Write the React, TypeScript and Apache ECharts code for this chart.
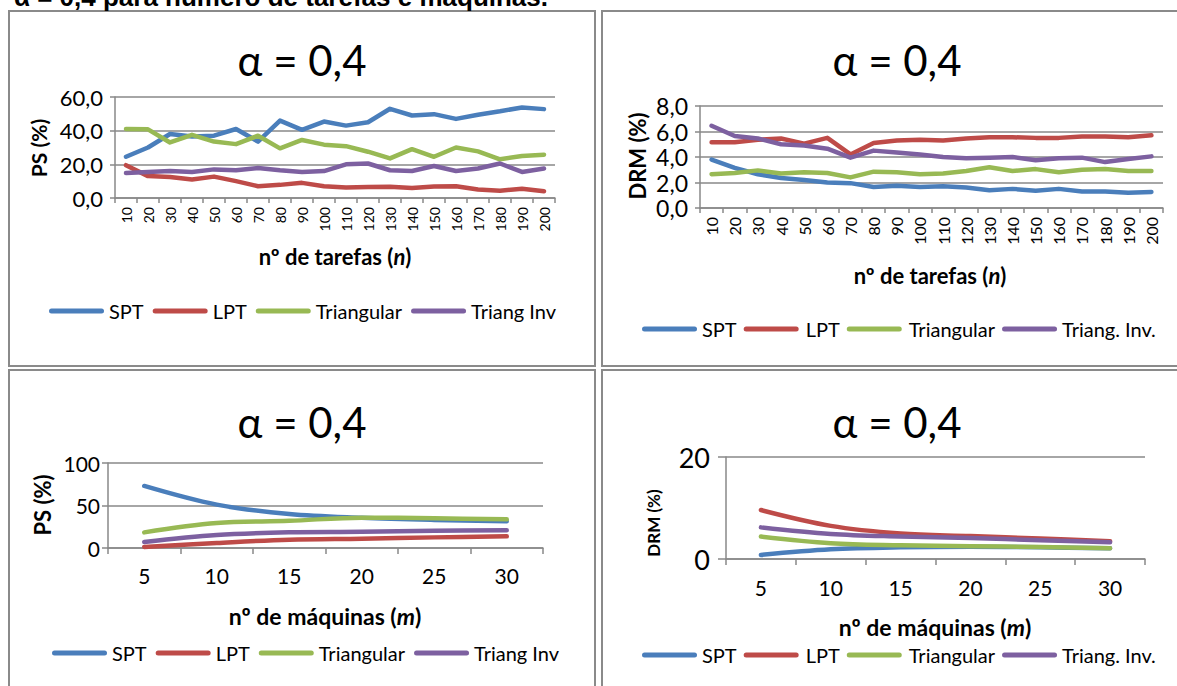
import React, { useEffect, useRef } from 'react';
import * as echarts from 'echarts';

const taskCats = ['10', '20', '30', '40', '50', '60', '70', '80', '90', '100', '110', '120', '130', '140', '150', '160', '170', '180', '190', '200'];
const machineCats = ['5', '10', '15', '20', '25', '30'];

const namesA = ['SPT', 'LPT', 'Triangular', 'Triang Inv'];
const namesB = ['SPT', 'LPT', 'Triangular', 'Triang. Inv.'];

const psTaskSPT = [24.5, 30, 38, 36.5, 37, 41, 33.5, 46, 40.5, 45.4, 43, 45, 53, 49, 49.8, 47, 49.5, 51.5, 53.8, 52.8];
const psTaskLPT = [19.5, 13, 12.5, 11, 12.7, 10, 7, 7.8, 9, 7, 6.2, 6.5, 6.7, 6, 6.8, 7, 5, 4.3, 5.5, 4];
const psTaskTri = [41, 40.8, 33, 37.5, 33.5, 32, 37, 29.5, 34.5, 31.7, 30.8, 27.5, 23.5, 29, 24.5, 30, 27.7, 23, 25, 25.7];
const psTaskInv = [14.8, 15.5, 16, 15.5, 17, 16.5, 17.8, 16.5, 15.5, 16, 20, 20.5, 16.5, 16, 19, 16, 17.5, 20.5, 15.5, 17.5];

const drmTaskSPT = [3.8, 3.15, 2.65, 2.35, 2.2, 2.0, 1.95, 1.65, 1.75, 1.65, 1.7, 1.6, 1.4, 1.5, 1.35, 1.5, 1.3, 1.3, 1.2, 1.25];
const drmTaskLPT = [5.15, 5.15, 5.35, 5.45, 5.05, 5.5, 4.2, 5.1, 5.3, 5.35, 5.3, 5.45, 5.55, 5.55, 5.5, 5.5, 5.6, 5.6, 5.55, 5.7];
const drmTaskTri = [2.65, 2.75, 2.95, 2.7, 2.8, 2.75, 2.4, 2.85, 2.8, 2.65, 2.7, 2.9, 3.2, 2.9, 3.05, 2.8, 3.0, 3.05, 2.9, 2.9];
const drmTaskInv = [6.45, 5.65, 5.45, 5.0, 4.9, 4.65, 3.95, 4.5, 4.35, 4.2, 4.0, 3.9, 3.95, 4.0, 3.75, 3.9, 3.95, 3.6, 3.85, 4.05];

const psMachSPT = [73, 51, 40, 35.5, 33, 31.5];
const psMachLPT = [1.2, 5.9, 9.8, 11, 12.5, 13.7];
const psMachTri = [18.4, 29.4, 32, 35.7, 35, 33.7];
const psMachInv = [7, 15.3, 18.4, 19, 20.4, 20.8];

const drmMachSPT = [0.8, 1.9, 2.3, 2.4, 2.3, 2.1];
const drmMachLPT = [9.6, 6.5, 5.0, 4.5, 4.0, 3.5];
const drmMachTri = [4.4, 3.1, 2.7, 2.5, 2.35, 2.1];
const drmMachInv = [6.2, 4.9, 4.4, 4.1, 3.7, 3.3];

const COLORS = ['#4A7EBB', '#BE4B48', '#98B954', '#7D60A0'];
const FONT = 'Lato';
const GRAY = '#898989';

function buildOption() {
  const grids = [
    { left: 115, top: 97, width: 440, height: 101 },
    { left: 700, top: 106, width: 463, height: 102 },
    { left: 108, top: 463, width: 435, height: 85 },
    { left: 726, top: 457, width: 419, height: 102 },
  ];
  const axisLine = { show: true, lineStyle: { color: GRAY, width: 1.5 } };
  const mkX = (gi: number, data: string[], label: any, tickLen: number) => ({
    type: 'category',
    gridIndex: gi,
    data,
    boundaryGap: true,
    axisLine,
    axisTick: { show: true, length: tickLen, lineStyle: { color: GRAY, width: 1.5 }, alignWithLabel: false },
    axisLabel: { interval: 0, color: '#000', fontFamily: FONT, ...label },
    splitLine: { show: false },
  });
  const mkY = (gi: number, max: number, interval: number, label: any, tickLen: number) => ({
    type: 'value',
    gridIndex: gi,
    min: 0,
    max,
    interval,
    axisLine,
    axisTick: { show: true, length: tickLen, lineStyle: { color: GRAY, width: 1.5 } },
    splitLine: { show: true, lineStyle: { color: GRAY, width: 1.5 } },
    axisLabel: { color: '#000', fontFamily: FONT, ...label },
  });
  const dec = (v: number) => v.toFixed(1).replace('.', ',');
  const xAxis = [
    mkX(0, taskCats, { rotate: 90, fontSize: 14, margin: 9 }, 5),
    mkX(1, taskCats, { rotate: 90, fontSize: 16, margin: 9 }, 5),
    mkX(2, machineCats, { fontSize: 21, margin: 17 }, 6),
    mkX(3, machineCats, { fontSize: 21, margin: 18 }, 6),
  ];
  const yAxis = [
    mkY(0, 60, 20, { fontSize: 22, margin: 12, formatter: dec }, 5),
    mkY(1, 8, 2, { fontSize: 23, margin: 12, formatter: dec }, 5),
    mkY(2, 100, 50, { fontSize: 21, margin: 8 }, 6),
    mkY(3, 20, 20, { fontSize: 27, margin: 16 }, 8),
  ];
  const sets = [
    { names: namesA, data: [psTaskSPT, psTaskLPT, psTaskTri, psTaskInv], smooth: false },
    { names: namesB, data: [drmTaskSPT, drmTaskLPT, drmTaskTri, drmTaskInv], smooth: false },
    { names: namesA, data: [psMachSPT, psMachLPT, psMachTri, psMachInv], smooth: true },
    { names: namesB, data: [drmMachSPT, drmMachLPT, drmMachTri, drmMachInv], smooth: true },
  ];
  const series: any[] = [];
  sets.forEach((s, gi) => {
    s.data.forEach((d, i) => {
      series.push({
        type: 'line',
        name: s.names[i],
        xAxisIndex: gi,
        yAxisIndex: gi,
        data: d,
        symbol: 'none',
        smooth: s.smooth ? 0.35 : false,
        itemStyle: { color: COLORS[i] },
        lineStyle: { color: COLORS[i], width: 4.5, cap: 'round', join: 'round' },
      });
    });
  });
  const pill = 'path://M2.5,0L52.5,0A2.5,2.5,0,0,1,52.5,5L2.5,5A2.5,2.5,0,0,1,2.5,0Z';
  const legendCommon = {
    icon: pill,
    itemWidth: 55,
    itemHeight: 5,
    padding: 0,
    orient: 'horizontal',
    textStyle: { fontFamily: FONT, fontSize: 20, color: '#000' },
  };
  const dataB = [
    'SPT',
    { name: 'LPT', textStyle: { padding: [0, 0, 0, 2] } },
    { name: 'Triangular', textStyle: { padding: [0, 0, 0, 2] } },
    'Triang. Inv.',
  ];
  const legend = [
    { ...legendCommon, left: 49, top: 301, itemGap: 9, data: namesA },
    { ...legendCommon, left: 642, top: 319, itemGap: 7, data: dataB },
    { ...legendCommon, left: 52, top: 643, itemGap: 9, data: namesA },
    { ...legendCommon, left: 642, top: 645, itemGap: 7, data: dataB },
  ];

  const txt = (text: string, x: number, y: number, size: number, weight: string, rotation = 0, family = FONT) => ({
    type: 'text',
    x,
    y,
    rotation,
    style: {
      text,
      fontSize: size,
      fontWeight: weight,
      fontFamily: family,
      fill: '#000',
      align: 'center',
      verticalAlign: 'middle',
      textAlign: 'center',
      textVerticalAlign: 'middle',
    },
  });
  const richName = (a: string, it: string, x: number, y: number, size: number) => ({
    type: 'text',
    x,
    y,
    style: {
      text: `{b|${a}(}{i|${it}}{b|)}`,
      align: 'center',
      verticalAlign: 'middle',
      textAlign: 'center',
      textVerticalAlign: 'middle',
      rich: {
        b: { fontSize: size, fontWeight: 'bold', fontFamily: FONT, fill: '#000', color: '#000' },
        i: { fontSize: size, fontWeight: 'bold', fontStyle: 'italic', fontFamily: FONT, fill: '#000', color: '#000' },
      },
    },
  });
  const rect = (x: number, y: number, w: number, h: number) => ({
    type: 'rect',
    shape: { x, y, width: w, height: h },
    style: { fill: 'none', stroke: '#8a8a8a', lineWidth: 2 },
    silent: true,
  });
  const graphic = [
    rect(9, 11, 586, 355),
    rect(602, 11, 600, 355),
    rect(9, 370, 586, 400),
    rect(602, 370, 600, 400),
    txt('α = 0,4 para número de tarefas e máquinas.', 281, -3, 26, 'bold', 0, 'Liberation Sans'),
    txt('α = 0,4', 302, 60, 42, 'normal'),
    txt('α = 0,4', 897, 60, 42, 'normal'),
    txt('α = 0,4', 302, 422, 42, 'normal'),
    txt('α = 0,4', 897, 422, 42, 'normal'),
    txt('PS (%)', 38, 148, 21, 'bold', Math.PI / 2),
    txt('DRM (%)', 637, 156, 22, 'bold', Math.PI / 2),
    txt('PS (%)', 42, 505, 22, 'bold', Math.PI / 2),
    txt('DRM (%)', 653, 523, 17, 'bold', Math.PI / 2),
    richName('nº de tarefas ', 'n', 335, 256, 22),
    richName('nº de tarefas ', 'n', 930, 275, 22),
    richName('nº de máquinas ', 'm', 325, 616, 23),
    richName('nº de máquinas ', 'm', 935, 627, 23),
  ];

  return {
    animation: false,
    backgroundColor: '#ffffff',
    grid: grids,
    xAxis,
    yAxis,
    series,
    legend,
    graphic,
  };
}

export default function App() {
  const ref = useRef<HTMLDivElement>(null);
  useEffect(() => {
    if (!ref.current) return;
    const chart = echarts.init(ref.current, null, { renderer: 'svg' });
    chart.setOption(buildOption() as any);
    return () => chart.dispose();
  }, []);
  return (
    <div
      ref={ref}
      style={{ position: 'fixed', left: 0, top: 0, width: 1177, height: 686, background: '#fff', overflow: 'hidden' }}
    />
  );
}
